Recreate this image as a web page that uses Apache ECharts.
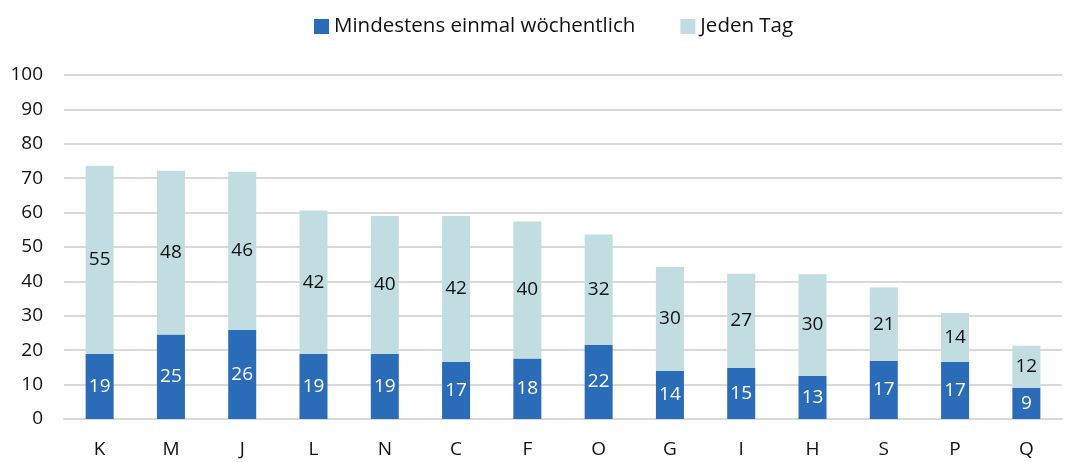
<!DOCTYPE html>
<html><head><meta charset="utf-8">
<script src="https://cdn.jsdelivr.net/npm/echarts@6/dist/echarts.min.js"></script>
<style>html,body{margin:0;padding:0;background:#fff}#c{width:1072px;height:462px}</style>
</head><body><div id="c"></div>
<script>
const categories = ['K','M','J','L','N','C','F','O','G','I','H','S','P','Q'];
const weekly = [18.9,24.6,25.9,18.9,18.9,16.6,17.6,21.5,14.0,14.9,12.5,16.9,16.6,9.1];
const daily = [54.7,47.6,46.0,41.7,40.1,42.4,39.8,32.1,30.2,27.3,29.6,21.3,14.2,12.2];
const seriesNames = ['Mindestens einmal wöchentlich','Jeden Tag'];
const FONT = 'Open Sans';
const chart = echarts.init(document.getElementById('c'));
chart.setOption({
  animation:false,
  textStyle:{fontFamily:FONT},
  legend:{top:11,left:309,itemWidth:15,itemHeight:15,itemGap:45,icon:'rect',
    textStyle:{fontFamily:FONT,fontSize:20.5,color:'#111'}},
  grid:{left:64,right:10,top:75,bottom:43},
  xAxis:{type:'category',data:categories,
    axisLine:{lineStyle:{color:'#d9d9d9',width:2}},axisTick:{show:false},
    axisLabel:{fontFamily:FONT,fontSize:19,color:'#111',margin:21}},
  yAxis:{type:'value',min:0,max:100,interval:10,
    axisLabel:{fontFamily:FONT,fontSize:19,color:'#111',margin:21},
    splitLine:{lineStyle:{color:'#d9d9d9',width:2}}},
  series:[
    {name:seriesNames[0],type:'bar',stack:'a',data:weekly,barWidth:28,
      itemStyle:{color:'#2b6cb8'},
      label:{show:true,position:'inside',color:'#fff',fontFamily:FONT,fontSize:19,formatter:p=>Math.round(p.value)}},
    {name:seriesNames[1],type:'bar',stack:'a',data:daily,barWidth:28,
      itemStyle:{color:'#c2dde2'},
      label:{show:true,position:'inside',color:'#111',fontFamily:FONT,fontSize:19,formatter:p=>Math.round(p.value)}}
  ]
});
</script></body></html>
